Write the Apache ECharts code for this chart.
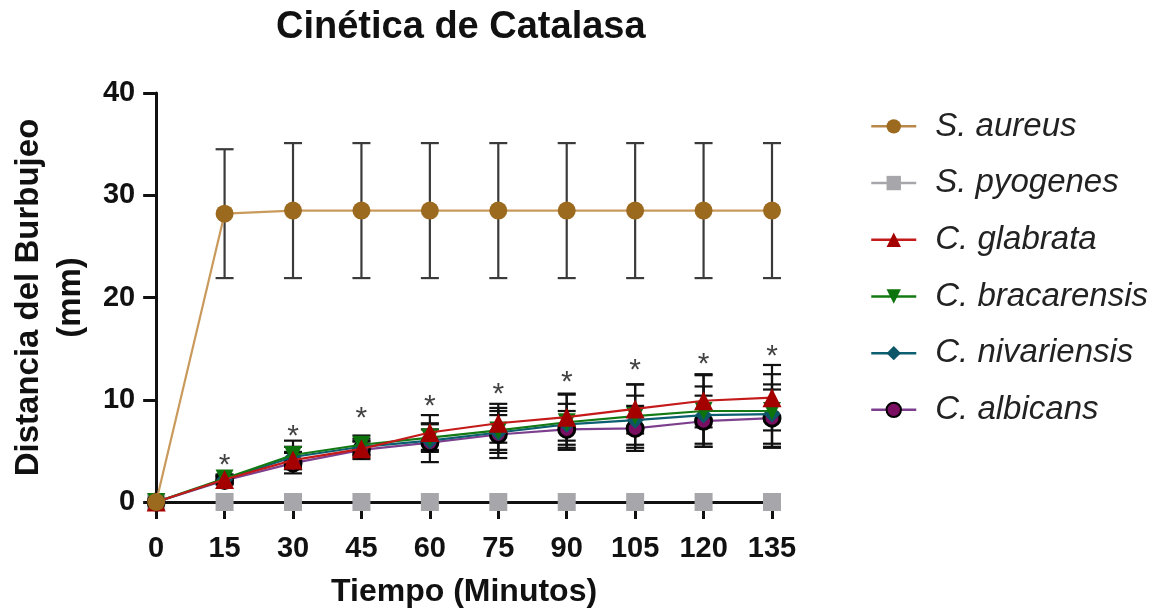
<!DOCTYPE html>
<html>
<head>
<meta charset="utf-8">
<script src="https://cdn.jsdelivr.net/npm/echarts@6/dist/echarts.min.js"></script>
<style>
html,body{margin:0;padding:0;background:#fff;}
#chart{width:1175px;height:613px;}
</style>
</head>
<body>
<div id="chart"></div>
<script>
const times = [0, 15, 30, 45, 60, 75, 90, 105, 120, 135];
const xTicks = [0, 15, 30, 45, 60, 75, 90, 105, 120, 135];
const yTicks = [0, 10, 20, 30, 40];

const aureusMean = [0, 28.2, 28.5, 28.5, 28.5, 28.5, 28.5, 28.5, 28.5, 28.5];
const aureusSD   = [0, 6.3, 6.6, 6.6, 6.6, 6.6, 6.6, 6.6, 6.6, 6.6];

const pyogenesMean = [0, 0, 0, 0, 0, 0, 0, 0, 0, 0];
const pyogenesSD   = [0, 0, 0, 0, 0, 0, 0, 0, 0, 0];

const glabrataMean = [0, 2.2, 4.1, 5.2, 6.8, 7.7, 8.3, 9.1, 9.9, 10.2];
const glabrataSD   = [0, 0.4, 0.8, 0.7, 1.7, 1.9, 2.3, 2.4, 2.6, 3.2];

const bracarensisMean = [0, 2.3, 4.6, 5.6, 6.3, 7.0, 7.8, 8.4, 8.9, 8.9];
const bracarensisSD   = [0, 0.4, 1.4, 0.9, 1.3, 2.2, 2.7, 3.1, 3.5, 3.6];

const nivariensisMean = [0, 2.2, 4.4, 5.4, 6.0, 6.8, 7.6, 8.0, 8.5, 8.6];
const nivariensisSD   = [0, 0.3, 1.0, 0.8, 1.1, 1.7, 2.0, 2.4, 2.8, 2.9];

const albicansMean = [0, 2.1, 3.8, 5.1, 5.8, 6.6, 7.1, 7.2, 7.9, 8.2];
const albicansSD   = [0, 0.4, 1.0, 0.9, 1.9, 2.3, 1.8, 2.2, 2.5, 2.8];

const starTimes  = [15, 30, 45, 60, 75, 90, 105, 120, 135];
const starLevels = [4.3, 7.2, 8.9, 10.1, 11.3, 12.4, 13.6, 14.2, 15.0];

const FONT = "'Liberation Sans', Arial, sans-serif";

function pairs(mean) { return times.map((t, i) => [t, mean[i]]); }
function triples(mean, sd) {
  const out = [];
  times.forEach((t, i) => { if (sd[i] > 0) out.push([t, mean[i], sd[i]]); });
  return out;
}

function errSeries(name, mean, sd, color, z) {
  return {
    name: name + ' err',
    type: 'custom',
    z: z,
    silent: true,
    encode: { x: 0, y: 1 },
    data: triples(mean, sd),
    renderItem: function (params, api) {
      const x = api.value(0), m = api.value(1), s = api.value(2);
      const top = api.coord([x, m + s]);
      const bot = api.coord([x, m - s]);
      const hw = 9;
      const style = { stroke: color, lineWidth: 2.2 };
      return {
        type: 'group',
        children: [
          { type: 'line', shape: { x1: top[0], y1: top[1], x2: bot[0], y2: bot[1] }, style: style },
          { type: 'line', shape: { x1: top[0] - hw, y1: top[1], x2: top[0] + hw, y2: top[1] }, style: style },
          { type: 'line', shape: { x1: bot[0] - hw, y1: bot[1], x2: bot[0] + hw, y2: bot[1] }, style: style }
        ]
      };
    }
  };
}

function lineSeries(name, mean, lineColor, fillColor, symbol, size, z, border, lineOpacity) {
  return {
    name: name,
    type: 'line',
    z: z,
    clip: false,
    data: pairs(mean),
    symbol: symbol,
    symbolSize: size,
    showSymbol: true,
    lineStyle: { color: lineColor, width: 2.2, opacity: lineOpacity === undefined ? 1 : lineOpacity },
    itemStyle: Object.assign({ color: fillColor }, border || {}),
    emphasis: { disabled: true }
  };
}

const chart = echarts.init(document.getElementById('chart'), null, { renderer: 'canvas' });

const option = {
  animation: false,
  backgroundColor: '#ffffff',
  title: {
    text: 'Cinética de Catalasa',
    left: 271,
    top: 4,
    textStyle: { fontFamily: FONT, fontSize: 38, fontWeight: 'bold', color: '#111' }
  },
  legend: {
    orient: 'vertical',
    left: 865,
    top: 103,
    itemWidth: 45,
    itemHeight: 18,
    itemGap: 20,
    data: [
      { name: 'S. aureus', lineStyle: { color: '#b8874a', width: 2.5, opacity: 1 } },
      { name: 'S. pyogenes', lineStyle: { color: '#a7a7ab', width: 2.5, opacity: 1 } },
      { name: 'C. glabrata', lineStyle: { width: 2.5 } },
      { name: 'C. bracarensis', lineStyle: { width: 2.5 } },
      { name: 'C. nivariensis', lineStyle: { width: 2.5 } },
      { name: 'C. albicans', lineStyle: { width: 2.5 } }
    ],
    textStyle: { fontFamily: FONT, fontSize: 33, fontStyle: 'italic', color: '#222', lineHeight: 36.7, padding: [0, 0, 0, 14] }
  },
  grid: { left: 155, right: 403, top: 93, bottom: 109, containLabel: false },
  xAxis: {
    type: 'value',
    min: 0, max: 135, interval: 15,
    name: 'Tiempo (Minutos)',
    nameLocation: 'middle',
    nameGap: 74,
    nameTextStyle: { fontFamily: FONT, fontSize: 32, fontWeight: 'bold', color: '#111' },
    axisLine: { onZero: false, lineStyle: { color: '#111', width: 3 } },
    axisTick: { show: true, length: 17, lineStyle: { color: '#111', width: 3 } },
    axisLabel: { margin: 32, fontFamily: FONT, fontSize: 29, fontWeight: 'bold', color: '#111',
      customValues: xTicks },
    splitLine: { show: false }
  },
  yAxis: {
    type: 'value',
    min: 0, max: 40, interval: 10,
    name: 'Distancia del Burbujeo\n(mm)',
    nameLocation: 'middle',
    nameRotate: 90,
    nameGap: 58,
    nameTextStyle: { fontFamily: FONT, fontSize: 33, fontWeight: 'bold', color: '#111', lineHeight: 42 },
    axisLine: { show: true, onZero: false, lineStyle: { color: '#111', width: 3 } },
    axisTick: { show: true, length: 13, lineStyle: { color: '#111', width: 3 } },
    axisLabel: { margin: 21, fontFamily: FONT, fontSize: 29, fontWeight: 'bold', color: '#111',
      customValues: yTicks },
    splitLine: { show: false }
  },
  series: [
    errSeries('S. aureus', aureusMean, aureusSD, '#3a3a3a', 1),
    errSeries('C. albicans', albicansMean, albicansSD, '#111', 1),
    errSeries('C. nivariensis', nivariensisMean, nivariensisSD, '#111', 1),
    errSeries('C. bracarensis', bracarensisMean, bracarensisSD, '#111', 1),
    errSeries('C. glabrata', glabrataMean, glabrataSD, '#111', 1),
    lineSeries('S. aureus', aureusMean, '#c99a5c', '#9c6a1f', 'circle', 18, 9),
    lineSeries('S. pyogenes', pyogenesMean, '#a7a7ab', '#a7a7ab', 'rect', 18, 3, null, 0),
    lineSeries('C. albicans', albicansMean, '#7c3f8e', '#7a0f62', 'circle', 16, 4, { borderColor: '#000', borderWidth: 3 }),
    lineSeries('C. nivariensis', nivariensisMean, '#0c5f70', '#0c5668', 'diamond', 17, 5),
    lineSeries('C. bracarensis', bracarensisMean, '#137a13', '#0d730d', 'triangle', 18, 6),
    lineSeries('C. glabrata', glabrataMean, '#c41a1a', '#a50000', 'triangle', 19, 7),
    {
      name: 'stars',
      type: 'scatter',
      z: 8,
      silent: true,
      symbolSize: 1,
      itemStyle: { color: 'rgba(0,0,0,0)' },
      data: starTimes.map((t, i) => [t, starLevels[i]]),
      label: {
        show: true,
        position: 'inside',
        formatter: '*',
        offset: [0, 8],
        fontFamily: FONT,
        fontSize: 30,
        color: '#111'
      }
    }
  ]
};
// C. bracarensis uses a downward-pointing triangle
option.series[9].symbolRotate = 180;

chart.setOption(option);
</script>
</body>
</html>
